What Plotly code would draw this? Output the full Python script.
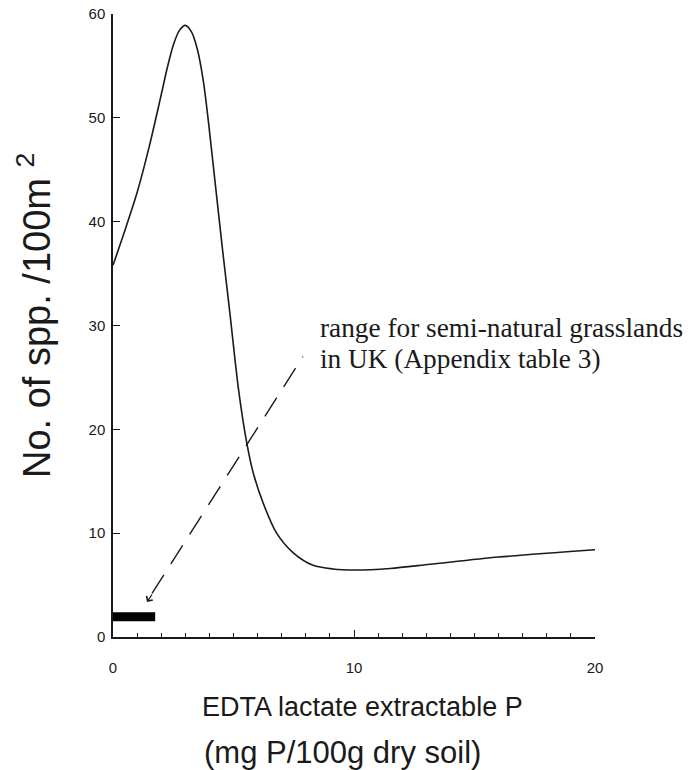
import plotly.graph_objects as go

# Species richness curve
curve_x = [0.0, 0.5, 1.0, 1.5, 1.95, 2.25, 2.5, 2.75, 3.0, 3.25, 3.5, 3.75, 4.0, 4.25, 4.56,
           4.85, 5.2, 5.55, 5.82, 6.23, 6.79, 7.48, 8.3, 9.13, 10.0, 11.5, 13.15, 16.0, 20.0]
curve_y = [35.8, 39.2, 42.8, 47.2, 51.7, 54.8, 57.0, 58.4, 58.9, 58.3, 56.6, 53.5, 48.8, 43.5, 37.0,
           31.2, 24.0, 18.7, 15.8, 12.9, 10.0, 8.1, 6.9, 6.55, 6.45, 6.6, 7.0, 7.7, 8.4]

# Range for semi-natural grasslands in UK
range_x = [0.0, 1.75]
range_y = [1.95, 1.95]

# Dashed pointer line
pointer_x = [1.62, 7.88]
pointer_y = [4.2, 27.0]
arrow_tip = (1.41, 3.37)

x_ticks = [0, 10, 20]
y_ticks = [0, 10, 20, 30, 40, 50, 60]

note_line_1 = "range for semi-natural grasslands"
note_line_2 = "in UK (Appendix table 3)"
x_title_1 = "EDTA lactate extractable P"
x_title_2 = "(mg P/100g dry soil)"
y_title = "No. of spp. /100m <sup>2</sup>"

SANS = "Liberation Sans, Arial, Helvetica, sans-serif"
SERIF = "Liberation Serif, Times New Roman, serif"
INK = "#1a1a1a"

W, H = 694, 770
OFF = 8  # page body margin
# plot area in page pixels
P_L, P_R, P_T, P_B = 113, 595, 14, 637
L = P_L - OFF
T = P_T - OFF
R = W - (P_R - OFF)
B = H - (P_B - OFF)
pw, ph = P_R - P_L, P_B - P_T


def px(xp):
    return (xp - P_L) / pw


def py(yp):
    return (P_B - yp) / ph


fig = go.Figure()
fig.add_trace(go.Scatter(x=curve_x, y=curve_y, mode="lines",
                         line=dict(color=INK, width=1.6, shape="spline", smoothing=0.8),
                         hoverinfo="skip", showlegend=False))
fig.add_trace(go.Scatter(x=range_x, y=range_y, mode="lines",
                         line=dict(color="black", width=9), showlegend=False))
fig.add_trace(go.Scatter(x=pointer_x, y=pointer_y, mode="lines",
                         line=dict(color=INK, width=1.4, dash="22px,13px"), showlegend=False))

fig.add_annotation(x=arrow_tip[0], y=arrow_tip[1], ax=6, ay=-9, axref="pixel", ayref="pixel",
                   text="", showarrow=True, arrowhead=4, arrowsize=1.2, arrowwidth=1.2,
                   arrowcolor=INK)

fig.add_annotation(x=px(318), y=py(328), xref="paper", yref="paper", text=note_line_1,
                   showarrow=False, xanchor="left", yanchor="middle",
                   font=dict(family=SERIF, size=27.3, color=INK))
fig.add_annotation(x=px(318), y=py(359), xref="paper", yref="paper", text=note_line_2,
                   showarrow=False, xanchor="left", yanchor="middle",
                   font=dict(family=SERIF, size=27.3, color=INK))
fig.add_annotation(x=px(200), y=py(707), xref="paper", yref="paper", text=x_title_1,
                   showarrow=False, xanchor="left", yanchor="middle",
                   font=dict(family=SANS, size=27, color=INK))
fig.add_annotation(x=px(202), y=py(752), xref="paper", yref="paper", text=x_title_2,
                   showarrow=False, xanchor="left", yanchor="middle",
                   font=dict(family=SANS, size=31, color=INK))
fig.add_annotation(x=px(34), y=py(316), xref="paper", yref="paper", text=y_title,
                   showarrow=False, textangle=-90, xanchor="center", yanchor="middle",
                   font=dict(family=SANS, size=38, color=INK))

fig.update_xaxes(range=[0, 20], tickvals=x_ticks, ticks="inside", ticklen=7, tickwidth=1.3,
                 tickcolor=INK, showline=True, linecolor=INK, linewidth=1.5, showgrid=False,
                 zeroline=False, ticklabelstandoff=16, automargin=False, ticklabeloverflow="allow",
                 minor=dict(dtick=1, ticks="inside", ticklen=4, tickwidth=1.2, tickcolor=INK, showgrid=False),
                 tickfont=dict(family=SANS, size=15, color=INK))
fig.update_yaxes(range=[0, 60], tickvals=y_ticks, ticks="inside", ticklen=7, tickwidth=1.3,
                 tickcolor=INK, showline=True, linecolor=INK, linewidth=1.5, showgrid=False,
                 zeroline=False, ticklabelstandoff=3, automargin=False, ticklabeloverflow="allow",
                 tickfont=dict(family=SANS, size=15, color=INK))

fig.update_layout(width=W, height=H, margin=dict(l=L, r=R, t=T, b=B, autoexpand=False),
                  plot_bgcolor="white", paper_bgcolor="white", showlegend=False)

fig.write_html("out.html")
